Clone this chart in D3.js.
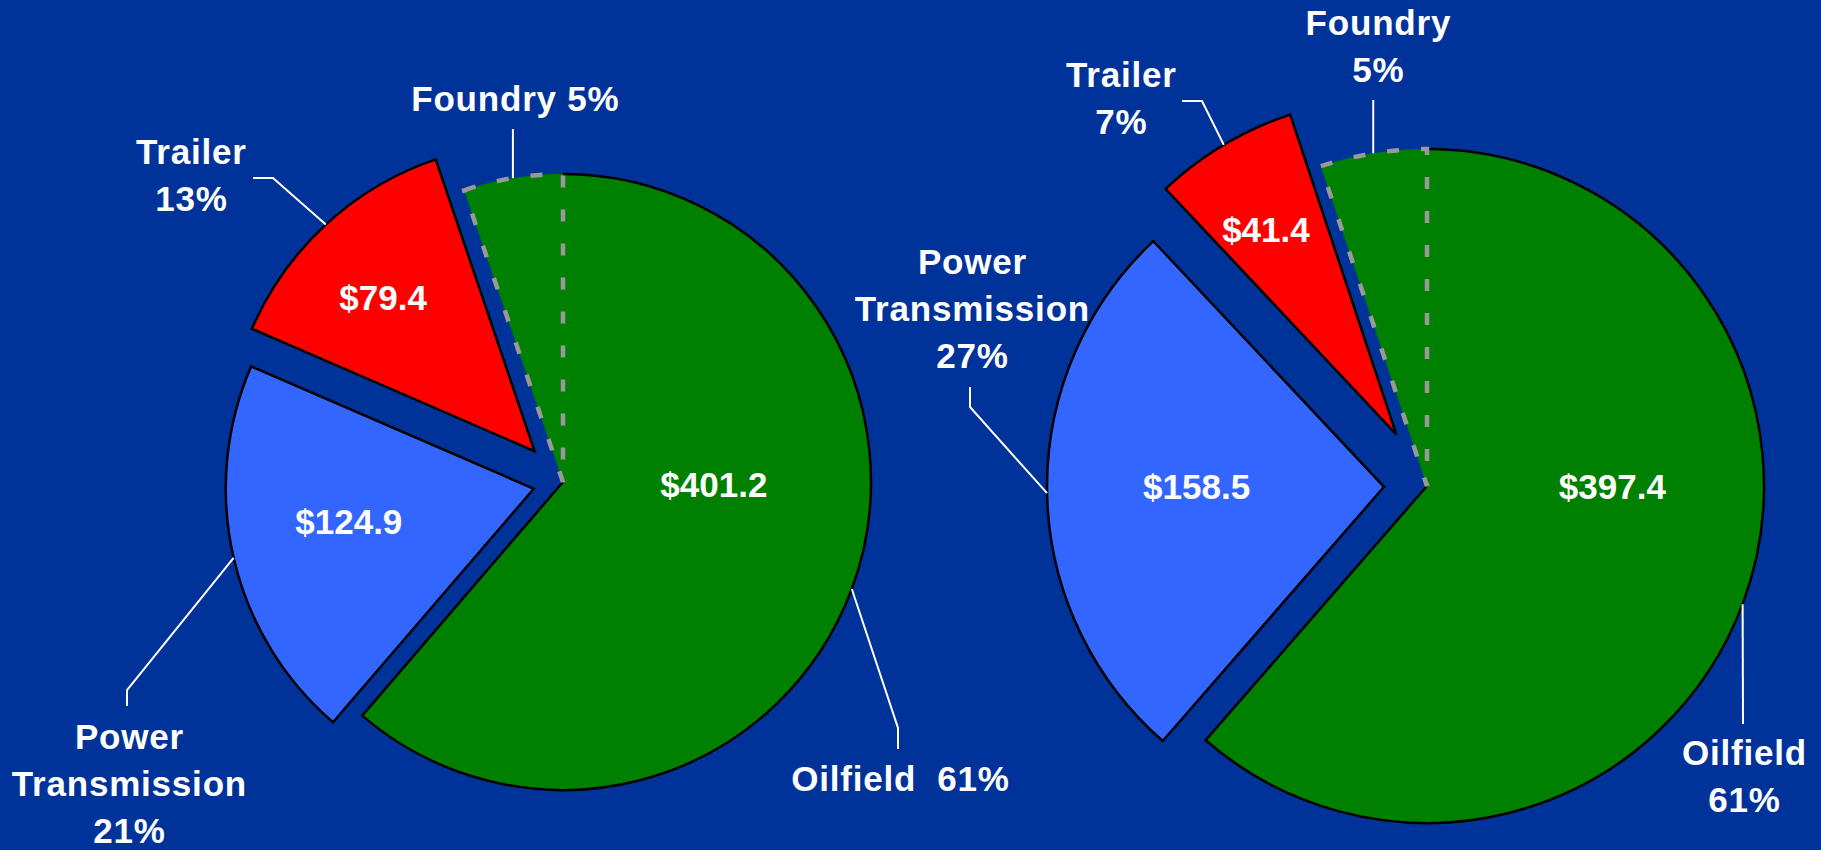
<!DOCTYPE html>
<html><head><meta charset="utf-8">
<script src="https://cdn.jsdelivr.net/npm/d3@7"></script>
<style>html,body{margin:0;padding:0;background:#003399;overflow:hidden}</style>
</head><body>
<svg id="chart" width="1821" height="850"></svg>
<script>
// ---- data ----
const categories = ["Oilfield", "Power Transmission", "Trailer", "Foundry"];
// slice shares
const leftShares = [61.3, 20.2, 13.3, 5.2];
const rightShares = [61.4, 26.6, 6.9, 5.1];
const leftValues = ["$401.2", "$124.9", "$79.4", null];
const rightValues = ["$397.4", "$158.5", "$41.4", null];
const leftLabels = [["Oilfield  61%"], ["Power", "Transmission", "21%"], ["Trailer", "13%"], ["Foundry 5%"]];
const rightLabels = [["Oilfield", "61%"], ["Power", "Transmission", "27%"], ["Trailer", "7%"], ["Foundry", "5%"]];

// ---- styles / layout ----
const colors = ["#008000", "#3366FF", "#FF0000", "#008000"];
const FONT = "'Liberation Sans', Arial, sans-serif";
const FS = 35, LH = 47, LS = 0.8;

const leftLayout = {
  cx: 563, cy: 482, r: 308,
  explode: [0, 30, 42, 0],
  valuePos: [[91, 0.49], [259.9, 0.61], [315.4, 0.70], null],
  labelPos: [[900, 791], [129, 749], [191, 164], [515, 111]],
  leader: [[[898, 728], [898, 749]], [[127, 690], [127, 706]], [[273, 178], [253, 178]], [[null, 129]]]
};
const rightLayout = {
  cx: 1427, cy: 486, r: 337,
  explode: [0, 43, 60, 0],
  valuePos: [[90, 0.55], [270, 0.556], [327.5, 0.72], null],
  labelPos: [[1744, 765], [972, 274], [1121, 87], [1378, 35]],
  leader: [[[1743, 724]], [[970, 407], [970, 387]], [[1202, 101], [1182, 101]], [[null, 100]]]
};

const svg = d3.select("#chart");
svg.append("rect").attr("width", 1821).attr("height", 850).attr("fill", "#003399");

const pie = d3.pie().sort(null).value(d => d);
const rad = d => d * Math.PI / 180;
const pt = (a, r) => [Math.sin(a) * r, -Math.cos(a) * r];

function drawPie(shares, values, labels, L) {
  const arcs = pie(shares);
  const arcGen = d3.arc().innerRadius(0).outerRadius(L.r);
  const g = svg.append("g").attr("transform", `translate(${L.cx},${L.cy})`);
  arcs.forEach((a, i) => {
    a.mid = (a.startAngle + a.endAngle) / 2;
    a.off = pt(a.mid, L.explode[i]);
  });
  // fills of oilfield + foundry
  [0, 3].forEach(i => {
    g.append("path").attr("d", arcGen(arcs[i])).attr("fill", colors[i])
      .attr("transform", `translate(${arcs[i].off})`);
  });
  // oilfield outline (arc + closing radius only)
  const a0 = arcs[0];
  const p = d3.path();
  const s = pt(a0.startAngle, L.r);
  p.moveTo(s[0], s[1]);
  p.arc(0, 0, L.r, a0.startAngle - Math.PI / 2, a0.endAngle - Math.PI / 2, false);
  p.lineTo(0, 0);
  g.append("path").attr("d", p.toString()).attr("fill", "none")
    .attr("stroke", "#000").attr("stroke-width", 2.5);
  // exploded slices
  [1, 2].forEach(i => {
    g.append("path").attr("d", arcGen(arcs[i])).attr("fill", colors[i])
      .attr("stroke", "#000").attr("stroke-width", 2.5)
      .attr("transform", `translate(${arcs[i].off})`);
  });
  // foundry dashed outline
  g.append("path").attr("d", arcGen(arcs[3])).attr("fill", "none")
    .attr("stroke", "#999999").attr("stroke-width", 4.5)
    .attr("stroke-dasharray", "12,22");

  // value labels
  arcs.forEach((a, i) => {
    if (!values[i]) return;
    const vp = L.valuePos[i];
    const q = pt(rad(vp[0]), vp[1] * L.r);
    g.append("text")
      .attr("x", a.off[0] + q[0]).attr("y", a.off[1] + q[1] + 12.5)
      .attr("text-anchor", "middle").attr("fill", "#fff")
      .attr("font-family", FONT).attr("font-weight", "bold").attr("font-size", FS)
      .text(values[i]);
  });

  // leader lines
  arcs.forEach((a, i) => {
    const e = pt(a.mid, L.r);
    const start = [L.cx + a.off[0] + e[0], L.cy + a.off[1] + e[1]];
    const pts = [start].concat(L.leader[i].map(q => [q[0] === null ? start[0] : q[0], q[1]]));
    svg.append("path").attr("d", d3.line()(pts)).attr("fill", "none")
      .attr("stroke", "#fff").attr("stroke-width", 2);
  });

  // category labels
  labels.forEach((lines, i) => {
    const t = svg.append("text")
      .attr("text-anchor", "middle").attr("fill", "#fff")
      .attr("font-family", FONT).attr("font-weight", "bold").attr("font-size", FS)
      .attr("letter-spacing", LS)
      .style("white-space", "pre");
    lines.forEach((ln, k) => {
      t.append("tspan").attr("x", L.labelPos[i][0] + LS / 2).attr("y", L.labelPos[i][1] + k * LH).text(ln);
    });
  });
}

drawPie(leftShares, leftValues, leftLabels, leftLayout);
drawPie(rightShares, rightValues, rightLabels, rightLayout);
</script>
</body></html>
